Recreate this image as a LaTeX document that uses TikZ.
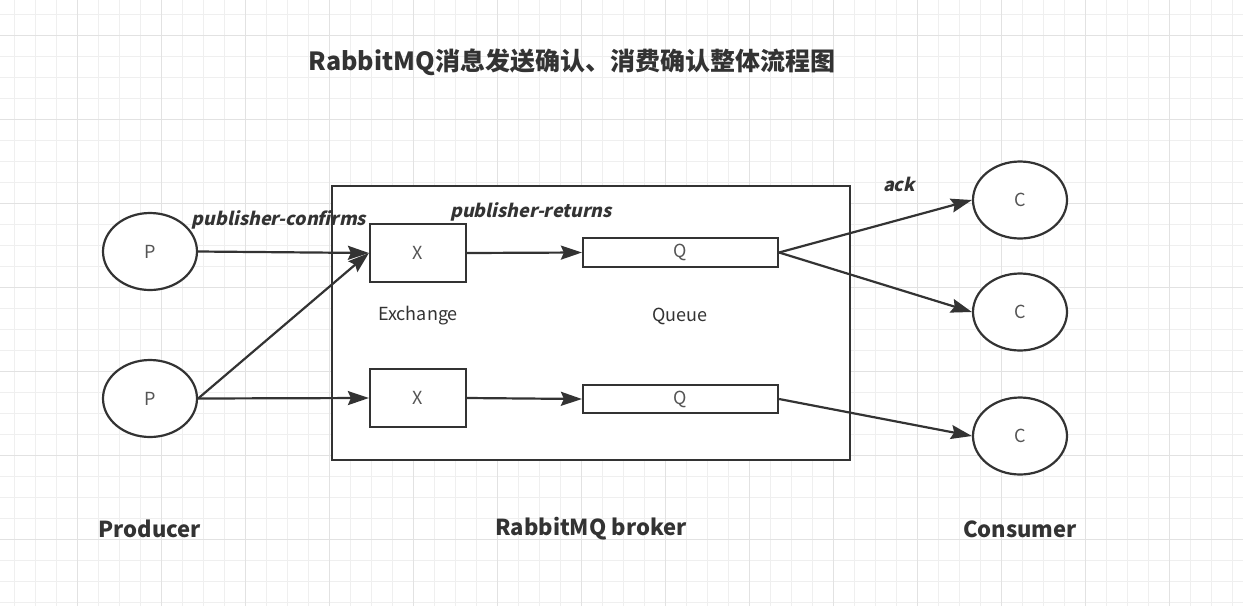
\documentclass[tikz,border=0pt]{standalone}
\usepackage{fontspec}
\setmainfont{Noto Sans CJK SC}
\newfontfamily\slantfam{Noto Sans CJK SC}[FakeSlant=0.22]
\usetikzlibrary{shapes.geometric,arrows.meta}
\definecolor{ink}{HTML}{333333}
\definecolor{txt}{HTML}{555555}
\definecolor{gridminor}{HTML}{EFEFEF}
\definecolor{gridmajor}{HTML}{E2E2E2}
\begin{document}
\begin{tikzpicture}[x=1pt,y=-1pt,
  minorline/.style={gridminor,line width=1pt},
  majorline/.style={gridmajor,line width=1pt},
  ell/.style={ellipse,draw=ink,line width=2.2pt,fill=white,inner sep=0pt,minimum width=94pt,minimum height=77pt,font=\fontsize{18}{20}\selectfont,text=txt},
  boxnode/.style={rectangle,draw=ink,line width=2.2pt,fill=white,inner sep=0pt,font=\fontsize{18}{20}\selectfont,text=txt},
  conn/.style={ink,line width=2.2pt,-{Stealth[length=21pt,width=14pt,inset=3pt]}},
  toplabel/.style={text=ink,font=\fontsize{18}{20}\slantfam\bfseries},
  plain/.style={text=ink,font=\fontsize{18}{20}\selectfont},
  caption/.style={text=ink,font=\fontsize{22}{26}\selectfont\bfseries}
]
\useasboundingbox (0,0) rectangle (1243,606);
\fill[white] (0,0) rectangle (1243,606);
% grid
\foreach \i in {0,...,58} \draw[minorline] ({14+21*\i},0) -- ({14+21*\i},606);
\foreach \i in {0,...,28} \draw[minorline] (0,{14+21*\i}) -- (1243,{14+21*\i});
\foreach \i in {0,...,14} \draw[majorline] ({77+84*\i-84},0) -- ({77+84*\i-84},606);
\foreach \i in {0,...,6} \draw[majorline] (0,{35+84*\i}) -- (1243,{35+84*\i});

% title
\node[text=ink,font=\fontsize{25}{30}\selectfont\bfseries] (title) at (572,62) {RabbitMQ消息发送确认、消费确认整体流程图};

% broker
\node[rectangle,draw=ink,line width=2.2pt,fill=white,minimum width=518pt,minimum height=274pt,inner sep=0pt] (broker) at (591,323) {};

% producers
\node[ell] (p1) at (150,251.5) {P};
\node[ell] (p2) at (150,398.5) {P};

% exchanges
\node[boxnode,minimum width=96pt,minimum height=58pt] (x1) at (418,253) {X};
\node[boxnode,minimum width=96pt,minimum height=58pt] (x2) at (418,398) {X};

% queues
\node[boxnode,minimum width=195pt,minimum height=29pt] (q1) at (680.5,252.5) {Q};
\node[boxnode,minimum width=195pt,minimum height=28pt] (q2) at (680.5,399) {Q};

% consumers
\node[ell] (c1) at (1020,200) {C};
\node[ell] (c2) at (1020,312) {C};
\node[ell] (c3) at (1020,436) {C};

% connectors
\draw[conn] (p1.east) -- (x1.west);
\draw[conn] (p2.east) -- (x1.west);
\draw[conn] (p2.east) -- (x2.west);
\draw[conn] (x1.east) -- (q1.west);
\draw[conn] (x2.east) -- (q2.west);
\draw[conn] (q1.east) -- (c1.west);
\draw[conn] (q1.east) -- (c2.west);
\draw[conn] (q2.east) -- (c3.west);

% labels
\node[toplabel] (lconf) at (279,220) {publisher-confirms};
\node[toplabel] (lret) at (531,212) {publisher-returns};
\node[toplabel] (lack) at (899,184) {ack};
\node[plain] (lex) at (418,316) {Exchange};
\node[plain] (lq) at (680,316) {Queue};
\node[caption] (lprod) at (150,529) {Producer};
\node[caption] (lbrk) at (591,529) {RabbitMQ broker};
\node[caption] (lcons) at (1020,529) {Consumer};
\end{tikzpicture}
\end{document}
